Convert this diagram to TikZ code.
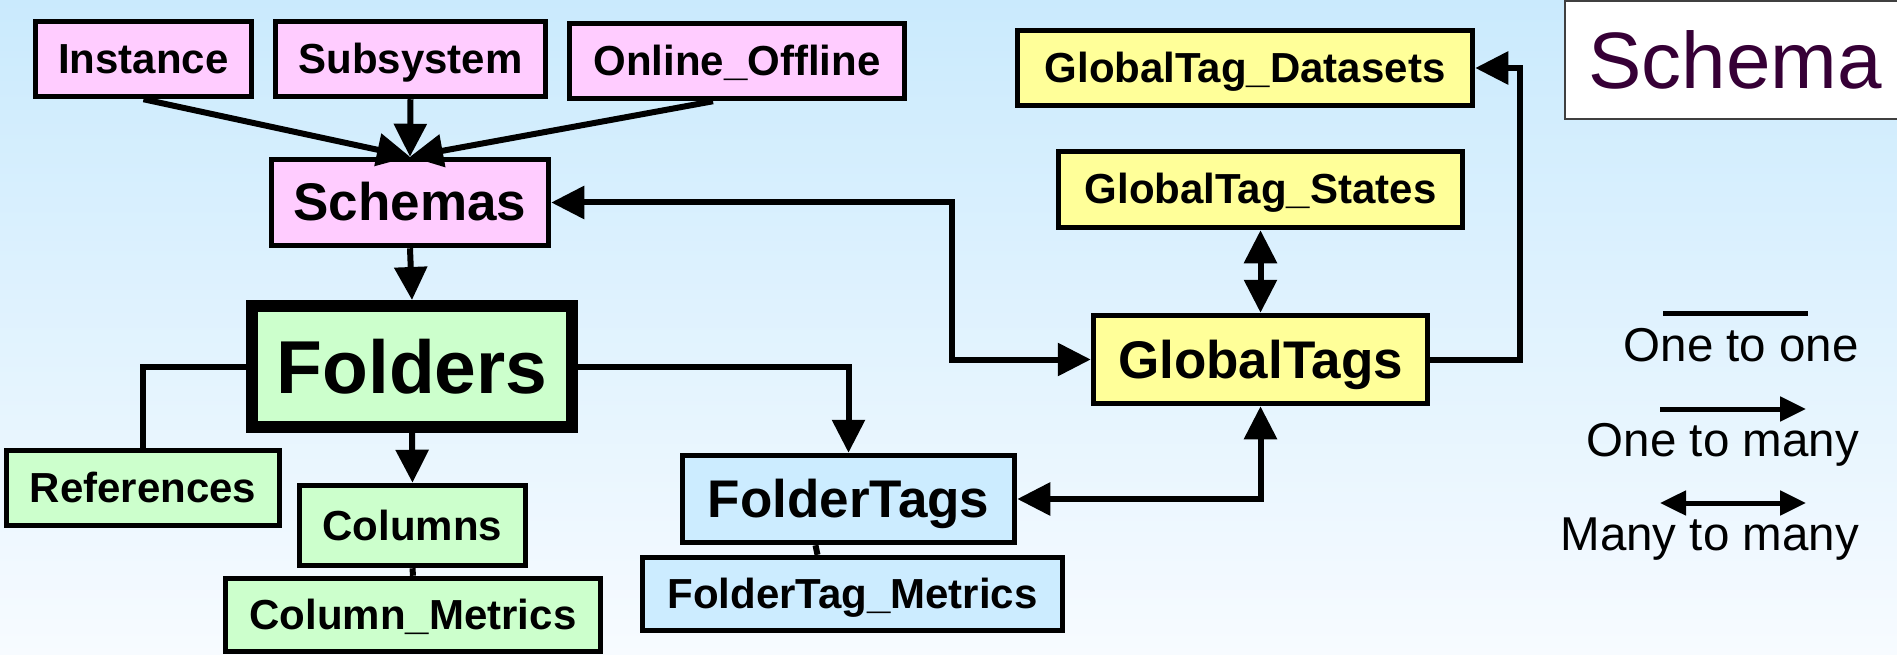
\documentclass[tikz,border=0pt]{standalone}
\usepackage{fontspec}
\setmainfont{Liberation Sans}
\usetikzlibrary{arrows.meta}
\definecolor{bgtop}{RGB}{202,234,253}
\definecolor{bgbot}{RGB}{247,251,255}
\definecolor{pinkfill}{RGB}{255,204,255}
\definecolor{greenfill}{RGB}{204,255,204}
\definecolor{bluefill}{RGB}{204,236,255}
\definecolor{yellowfill}{RGB}{255,255,153}
\definecolor{titlecol}{RGB}{54,0,54}
\tikzset{
  box/.style={draw=black, line width=5.5pt, inner sep=0pt},
  small/.style={box, text height=30pt, text depth=1pt, font=\bfseries\fontsize{42}{48}\selectfont},
  medium/.style={box, text height=38pt, text depth=1pt, font=\bfseries\fontsize{53}{60}\selectfont},
  large/.style={box, line width=12pt, text height=54pt, text depth=1pt, font=\bfseries\fontsize{75}{84}\selectfont},
  pinkbox/.style={fill=pinkfill},
  greenbox/.style={fill=greenfill},
  bluebox/.style={fill=bluefill},
  yellowbox/.style={fill=yellowfill},
  conn/.style={line width=6pt},
  arr/.style={conn, -{Triangle[length=33pt,width=32pt]}},
  darr/.style={conn, {Triangle[length=33pt,width=32pt]}-{Triangle[length=33pt,width=32pt]}},
  legline/.style={line width=5pt},
  legarr/.style={legline, -{Triangle[length=26pt,width=24pt]}},
  legdarr/.style={legline, {Triangle[length=26pt,width=24pt]}-{Triangle[length=26pt,width=24pt]}},
  legtext/.style={anchor=base east, inner sep=0pt, font=\fontsize{47.5}{54}\selectfont},
  titlebox/.style={draw=black!75, line width=2pt, fill=white, inner sep=0pt,
    text height=57.5pt, text depth=1pt, text=titlecol, font=\fontsize{80}{90}\selectfont}
}
\begin{document}
\begin{tikzpicture}[x=1pt,y=-1pt]
\useasboundingbox (0,0) rectangle (1897,655);
\clip (0,0) rectangle (1897,655);
\shade[top color=bgtop, bottom color=bgbot] (0,0) rectangle (1897,655);

% title
\node[titlebox, minimum width=340pt, minimum height=118pt] (title) at (1735,60) {Schema};

% pink
\node[small, pinkbox, minimum width=216pt, minimum height=75pt] (inst) at (143.5,59) {Instance};
\node[small, pinkbox, minimum width=270pt, minimum height=75pt] (subs) at (410.5,59) {Subsystem};
\node[small, pinkbox, minimum width=335pt, minimum height=75pt] (onl) at (737,61) {Online\_Offline};
\node[medium, pinkbox, minimum width=277pt, minimum height=86pt] (sch) at (410,202.5) {Schemas};

% green
\node[large, greenbox, minimum width=320pt, minimum height=121pt] (fold) at (412,366.5) {Folders};
\node[small, greenbox, minimum width=273pt, minimum height=75pt] (refs) at (143,488) {References};
\node[small, greenbox, minimum width=226pt, minimum height=80pt] (cols) at (412.5,525.5) {Columns};
\node[small, greenbox, minimum width=375pt, minimum height=73pt] (cm) at (413,615) {Column\_Metrics};

% blue
\node[medium, bluebox, minimum width=332pt, minimum height=87pt] (ft) at (848.5,499) {FolderTags};
\node[small, bluebox, minimum width=420pt, minimum height=73pt] (ftm) at (852.5,594) {FolderTag\_Metrics};

% yellow
\node[medium, yellowbox, minimum width=334pt, minimum height=88pt] (gt) at (1260.5,359.5) {GlobalTags};
\node[small, yellowbox, minimum width=455pt, minimum height=75pt] (gtd) at (1245,68) {GlobalTag\_Datasets};
\node[small, yellowbox, minimum width=404pt, minimum height=76pt] (gts) at (1260.5,189.5) {GlobalTag\_States};

% routing coordinates
\coordinate (c1) at (952,0);
\coordinate (c2) at (1520,0);

% connectors
\draw[arr] (inst.south) -- (sch.north);
\draw[arr] (subs.south) -- (sch.north);
\draw[arr] ([xshift=-24pt]onl.south) -- (sch.north);
\draw[arr] (sch.south) -- (fold.north);
\draw[darr] (sch.east) -- (sch.east -| c1) -- (gt.west -| c1) -- (gt.west);
\draw[conn] (fold.west) -| (refs.north);
\draw[arr] (fold.east) -| (ft.north);
\draw[arr] (fold.south) -- (cols.north);
\draw[conn] (cols.south) -- (cm.north);
\draw[conn] ([xshift=-33pt]ft.south) -- ([xshift=-35pt]ftm.north);
\draw[darr] (ft.east) -| (gt.south);
\draw[darr] (gts.south) -- (gt.north);
\draw[arr] (gt.east) -- (gt.east -| c2) -- (gtd.east -| c2) -- (gtd.east);

% legend
\coordinate (l1a) at (1663,313);
\coordinate (l1b) at (1808,313);
\coordinate (l2a) at (1660,409);
\coordinate (l2b) at (1806,409);
\coordinate (l3a) at (1660,503);
\coordinate (l3b) at (1806,503);
\draw[legline] (l1a) -- (l1b);
\draw[legarr] (l2a) -- (l2b);
\draw[legdarr] (l3a) -- (l3b);
\node[legtext] (t1) at (1859,361) {One to one};
\node[legtext] (t2) at (1859,456) {One to many};
\node[legtext] (t3) at (1859,550) {Many to many};
\end{tikzpicture}
\end{document}
